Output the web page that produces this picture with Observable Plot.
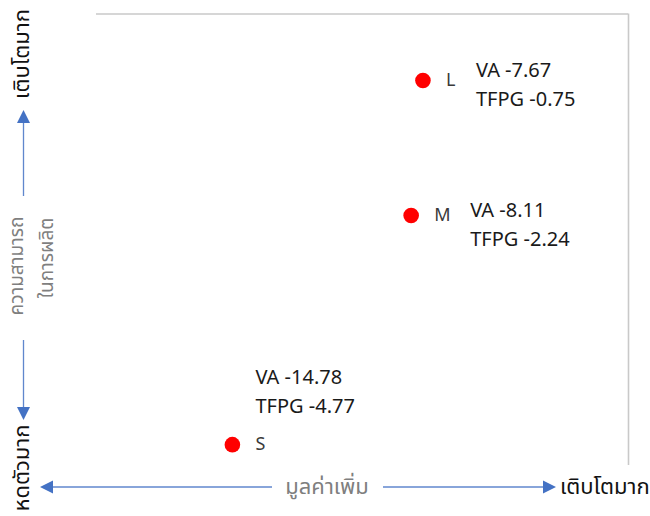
<!DOCTYPE html>
<html>
<head>
<meta charset="utf-8">
<script src="https://cdn.jsdelivr.net/npm/d3@7"></script>
<script src="https://cdn.jsdelivr.net/npm/@observablehq/plot@0.6"></script>
<style>
  html, body { margin: 0; padding: 0; background: #fff; }
  #chart { width: 650px; height: 516px; }
</style>
</head>
<body>
<div id="chart"></div>
<script>
// ---- data ----
const groups = ["S", "M", "L"];
const vaGrowth = [-14.78, -8.11, -7.67];
const tfpGrowth = [-4.77, -2.24, -0.75];
const xDomain = [-20, 0];
const yDomain = [-5, 0];
const xAxisLabel = "มูลค่าเพิ่ม";
const yAxisLabelLines = ["ความสามารถ", "ในการผลิต"];
const highLabel = "เติบโตมาก";
const lowLabel = "หดตัวมาก";

const data = groups.map((g, i) => ({group: g, va: vaGrowth[i], tfpg: tfpGrowth[i]}));

// ---- styles ----
const FONT = '"Noto Sans Thai", "Noto Sans", "DejaVu Sans", sans-serif';
const labelOffsets = {
  S: {dx: 23, dy: -61},
  M: {dx: 59, dy: 2},
  L: {dx: 53, dy: -3}
};
const W = 650, H = 516;

const valueMarks = [];
for (const d of data) {
  const o = labelOffsets[d.group];
  const sub = data.filter(e => e.group === d.group);
  valueMarks.push(
    Plot.text(sub, {
      x: "va", y: "tfpg", text: e => `VA -${Math.abs(e.va).toFixed(2)}`,
      dx: o.dx, dy: o.dy, textAnchor: "start", lineAnchor: "bottom",
      fontSize: 20, fill: "#1a1a1a"
    }),
    Plot.text(sub, {
      x: "va", y: "tfpg", text: e => `TFPG -${Math.abs(e.tfpg).toFixed(2)}`,
      dx: o.dx, dy: o.dy + 29, textAnchor: "start", lineAnchor: "bottom",
      fontSize: 20, fill: "#1a1a1a"
    })
  );
}

const plot = Plot.plot({
  width: W,
  height: H,
  marginLeft: 92,
  marginRight: 22,
  marginTop: 12,
  marginBottom: 51,
  style: {fontFamily: FONT, background: "#fff", overflow: "visible"},
  x: {domain: xDomain, axis: null},
  y: {domain: yDomain, axis: null},
  marks: [
    Plot.ruleY([0], {stroke: "#c9c9c9", strokeWidth: 1.6, insetLeft: 4, dy: 1.5}),
    Plot.ruleX([0], {stroke: "#c9c9c9", strokeWidth: 1.6, insetTop: 1.5}),
    Plot.dot(data, {x: "va", y: "tfpg", r: 7.8, fill: "#ff0000", stroke: "none"}),
    Plot.text(data, {x: "va", y: "tfpg", text: "group", dx: 23, textAnchor: "start",
      lineAnchor: "middle", fontSize: 18, fill: "#3a3a3a"}),
    ...valueMarks
  ]
});

document.getElementById("chart").appendChild(plot);

// ---- decorative axis arrows and labels ----
const svg = d3.select(plot);
const g = svg.append("g").attr("font-family", FONT);
const blue = "#4472c4";

function arrow(x1, y1, x2, y2) {
  const ang = Math.atan2(y2 - y1, x2 - x1);
  const len = 13, half = 6.5;
  const bx = x2 - len * Math.cos(ang), by = y2 - len * Math.sin(ang);
  g.append("line").attr("x1", x1).attr("y1", y1).attr("x2", bx).attr("y2", by)
    .attr("stroke", blue).attr("stroke-width", 1.3).attr("stroke-opacity", 0.85);
  const px = -Math.sin(ang) * half, py = Math.cos(ang) * half;
  g.append("polygon")
    .attr("points", `${x2},${y2} ${bx + px},${by + py} ${bx - px},${by - py}`)
    .attr("fill", blue);
}

function vtext(x, y, txt, color, size) {
  g.append("text").attr("transform", `translate(${x},${y}) rotate(-90)`)
    .attr("text-anchor", "middle").attr("dominant-baseline", "central")
    .attr("fill", color).attr("font-size", size).text(txt);
}

// vertical (left)
vtext(22, 54, highLabel, "#111", 22);
arrow(23.5, 196, 23.5, 110);
vtext(17, 266, yAxisLabelLines[0], "#7f7f7f", 19);
vtext(47, 258, yAxisLabelLines[1], "#7f7f7f", 19);
arrow(23.5, 340, 23.5, 420);
vtext(22, 468, lowLabel, "#111", 22);

// horizontal (bottom)
arrow(272, 487, 40, 487);
g.append("text").attr("x", 327).attr("y", 487).attr("text-anchor", "middle")
  .attr("dominant-baseline", "central").attr("fill", "#7f7f7f").attr("font-size", 22)
  .text(xAxisLabel);
arrow(383, 487, 556, 487);
g.append("text").attr("x", 560).attr("y", 487).attr("text-anchor", "start")
  .attr("dominant-baseline", "central").attr("fill", "#111").attr("font-size", 22)
  .text(highLabel);
</script>
</body>
</html>
